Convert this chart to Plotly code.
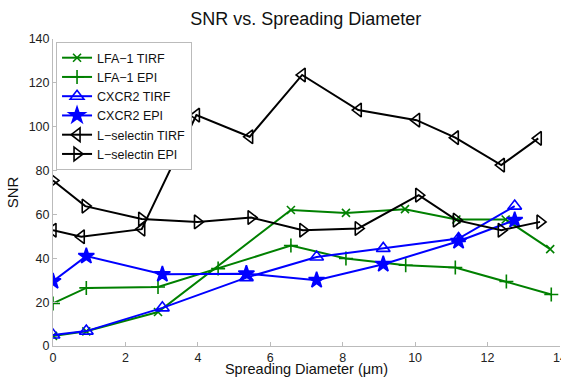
import plotly.graph_objects as go

# ---- data ----
lfa_tirf_x = [0.0, 0.92, 2.9, 6.57, 8.09, 9.72, 11.14, 12.5, 13.73]
lfa_tirf_y = [4.6, 6.7, 15.5, 62.0, 60.7, 62.4, 57.7, 57.7, 44.2]

lfa_epi_x = [0.0, 0.92, 2.9, 4.56, 6.57, 8.09, 9.74, 11.11, 12.52, 13.76]
lfa_epi_y = [19.4, 26.5, 26.9, 35.3, 45.8, 39.9, 36.8, 35.8, 29.4, 23.5]

cx_tirf_x = [0.0, 0.92, 3.02, 5.34, 7.28, 9.12, 11.2, 12.75]
cx_tirf_y = [5.0, 6.8, 17.4, 31.2, 40.6, 44.5, 49.0, 63.8]

cx_epi_x = [0.0, 0.92, 3.02, 5.34, 7.28, 9.12, 11.2, 12.75]
cx_epi_y = [29.5, 41.0, 32.7, 33.0, 30.0, 37.3, 47.8, 57.4]

ls_tirf_x = [0.0, 0.78, 2.45, 3.96, 5.43, 6.88, 8.43, 10.04, 11.11, 12.38, 13.4]
ls_tirf_y = [52.8, 49.8, 53.3, 105.3, 95.4, 123.6, 107.6, 103.0, 95.0, 82.5, 94.7]

ls_epi_x = [0.0, 0.89, 2.45, 3.99, 5.47, 6.9, 8.43, 10.1, 11.14, 12.38, 13.45]
ls_epi_y = [75.5, 63.8, 57.9, 56.6, 58.6, 52.8, 53.6, 68.8, 57.4, 52.8, 56.6]

x_ticks = [0, 2, 4, 6, 8, 10, 12, 14]
y_ticks = [0, 20, 40, 60, 80, 100, 120, 140]

GREEN = "#008000"
BLUE = "#0000ff"
BLACK = "#000000"

series = [
    ("LFA−1 TIRF", lfa_tirf_x, lfa_tirf_y, GREEN, "x-thin-open", 8),
    ("LFA−1 EPI", lfa_epi_x, lfa_epi_y, GREEN, "cross-thin-open", 10),
    ("CXCR2 TIRF", cx_tirf_x, cx_tirf_y, BLUE, "triangle-up-open", 12),
    ("CXCR2 EPI", cx_epi_x, cx_epi_y, BLUE, "star", 12),
    ("L−selectin TIRF", ls_tirf_x, ls_tirf_y, BLACK, "triangle-left-open", 12),
    ("L−selectin EPI", ls_epi_x, ls_epi_y, BLACK, "triangle-right-open", 12),
]

fig = go.Figure()
for name, xs, ys, col, sym, sz in series:
    fig.add_trace(go.Scatter(
        x=xs, y=ys, name=name, mode="lines+markers",
        line=dict(color=col, width=2),
        marker=dict(symbol=sym, size=sz, color=col,
                    line=dict(color=col, width=1.6)),
    ))

FONT = "Liberation Sans, Arial, Helvetica, sans-serif"

fig.update_layout(
    width=561, height=377,
    margin=dict(l=53, r=1, t=39, b=31, pad=0, autoexpand=False),
    paper_bgcolor="white", plot_bgcolor="white",
    font=dict(family=FONT, size=13, color="#222222"),
    title=dict(text="SNR vs. Spreading Diameter", x=0.545, xanchor="center",
               y=0.95, yanchor="middle", font=dict(size=18, color="#111111")),
    showlegend=True,
    legend=dict(x=0.006, y=0.99, xanchor="left", yanchor="top",
                bgcolor="white", bordercolor="#bbbbbb", borderwidth=1,
                font=dict(size=12.5, color="#111111"),
                tracegroupgap=0, itemwidth=30),
    xaxis=dict(range=[0, 14.001], tickvals=x_ticks, ticks="inside", ticklen=4,
               tickcolor="#bbbbbb", showline=True, linecolor="#bbbbbb",
               linewidth=1, showgrid=False, zeroline=False, automargin=False,
               ticklabeloverflow="allow",
               tickfont=dict(size=12.5, color="#222222"),
               title=dict(text="Spreading Diameter (μm)", standoff=6,
                          font=dict(size=14.5, color="#111111"))),
    yaxis=dict(range=[0, 140], tickvals=y_ticks, ticks="inside", ticklen=4,
               tickcolor="#bbbbbb", showline=True, linecolor="#bbbbbb",
               linewidth=1, showgrid=False, zeroline=False, automargin=False,
               tickfont=dict(size=12.5, color="#222222"),
               title=dict(text="SNR", standoff=6,
                          font=dict(size=15, color="#111111"))),
)

fig.write_html("out.html")
